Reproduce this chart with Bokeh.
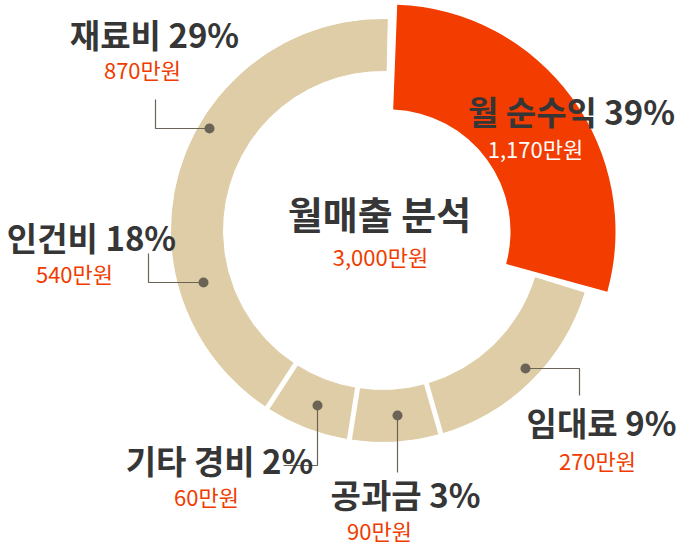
import numpy as np
from bokeh.plotting import figure
from bokeh.models import Range1d
from bokeh.core.properties import value
from bokeh.embed import file_html
from bokeh.resources import INLINE

# ---------------- data ----------------
categories = ["월 순수익", "임대료", "공과금", "기타 경비", "인건비", "재료비"]
percents = [39, 9, 3, 2, 18, 29]
amounts = [1170, 270, 90, 60, 540, 870]          # 만원
total_amount = 3000                               # 만원
# share of the circle each slice is drawn with in the picture (degrees, clockwise from 12 o'clock)
drawn_span = [106, 58, 25, 24, 56, 91]
highlight = "월 순수익"

# ---------------- styles ----------------
BEIGE = "#decda6"
RED = "#f23c00"
ORANGE = "#f03c00"
DARK = "#363636"
LEADER = "#6b6355"
FONT = value("Noto Sans CJK KR")

W, H = 684, 544
def X(rx): return rx
def Y(ry): return H - ry

p = figure(width=W, height=H, output_backend="svg", toolbar_location=None,
           x_range=Range1d(0, W), y_range=Range1d(0, H), min_border=0)
p.axis.visible = False
p.grid.visible = False
p.outline_line_color = None
p.background_fill_color = "white"

cx, cy = X(382), Y(230)
r_in, r_out = 160, 211
red_cx, red_cy = X(388), Y(231)
red_in, red_out = 122, 227

bounds = np.concatenate([[0], np.cumsum(drawn_span)])  # clockwise degrees from top
starts_cw = bounds[:-1].astype(float)
ends_cw = bounds[1:].astype(float)

def to_math(deg_cw):
    return np.deg2rad(90.0 - deg_cw)

# beige slices
b_start, b_end = [], []
for cat, s, e in zip(categories, starts_cw, ends_cw):
    if cat == highlight:
        continue
    s2, e2 = s, e
    if s == drawn_span[0]:       # slice right after the highlight
        s2 = s + 1.2
    if e == 360:                 # slice just before 12 o'clock
        e2 = e + 1.3
    b_start.append(to_math(e2))
    b_end.append(to_math(s2))
p.annular_wedge(x=cx, y=cy, inner_radius=r_in, outer_radius=r_out,
                start_angle=b_start, end_angle=b_end, direction="anticlock",
                fill_color=BEIGE, line_color=BEIGE, line_width=1)

# white separators between beige slices (no gap between 인건비 and 재료비 in the picture)
sep_deg = [bounds[2], bounds[3], bounds[4]]
xs, ys = [], []
for d in sep_deg:
    a = to_math(d)
    xs.append([cx + (r_in - 3) * np.cos(a), cx + (r_out + 3) * np.cos(a)])
    ys.append([cy + (r_in - 3) * np.sin(a), cy + (r_out + 3) * np.sin(a)])
p.multi_line(xs=xs, ys=ys, line_color="white", line_width=5)

# highlighted slice
p.annular_wedge(x=red_cx, y=red_cy, inner_radius=red_in, outer_radius=red_out,
                start_angle=to_math(ends_cw[0] - 0.6), end_angle=to_math(starts_cw[0] + 2.2),
                direction="anticlock", fill_color=RED, line_color=None)

# ---------------- leaders (layout, page pixels) ----------------
leaders = {
    "재료비":   ((209, 128), [(155, 128), (155, 99)]),
    "인건비":   ((203, 282), [(148, 282), (148, 253)]),
    "기타 경비": ((317, 405), [(317, 465), (283, 465)]),
    "공과금":   ((397, 415), [(397, 472)]),
    "임대료":   ((525, 368), [(579, 368), (579, 395)]),
}
lx, ly, dx, dy = [], [], [], []
for cat, (dot, path) in leaders.items():
    pts = [dot] + path
    lx.append([X(a) for a, b in pts])
    ly.append([Y(b) for a, b in pts])
    dx.append(X(dot[0])); dy.append(Y(dot[1]))
p.multi_line(xs=lx, ys=ly, line_color=LEADER, line_width=1.2)
p.scatter(x=dx, y=dy, size=10, fill_color=LEADER, line_color=None)

# ---------------- labels ----------------
title_pos = {
    "월 순수익": (571, 110), "임대료": (601, 421), "공과금": (405, 493),
    "기타 경비": (219, 459), "인건비": (91, 236), "재료비": (154, 33),
}
sub_pos = {
    "월 순수익": (535, 147), "임대료": (597, 459), "공과금": (379, 529),
    "기타 경비": (206, 495), "인건비": (74, 272), "재료비": (142, 68),
}
tx, ty, tt = [], [], []
sx, sy, st, sc = [], [], [], []
for cat, pc, am in zip(categories, percents, amounts):
    tx.append(X(title_pos[cat][0])); ty.append(Y(title_pos[cat][1]))
    tt.append(f"{cat} {pc}%")
    sx.append(X(sub_pos[cat][0])); sy.append(Y(sub_pos[cat][1]))
    st.append(f"{am:,}만원")
    sc.append("white" if cat == highlight else ORANGE)

p.text(x=tx, y=ty, text=tt, text_font=FONT, text_font_style="bold",
       text_font_size="33px", text_color=DARK, text_align="center", text_baseline="middle")
p.text(x=sx, y=sy, text=st, text_font=FONT, text_font_size="22px",
       text_color=sc, text_align="center", text_baseline="middle")

# center
p.text(x=[X(379)], y=[Y(212)], text=["월매출 분석"], text_font=FONT, text_font_style="bold",
       text_font_size="38px", text_color=DARK, text_align="center", text_baseline="middle")
p.text(x=[X(380)], y=[Y(255)], text=[f"{total_amount:,}만원"], text_font=FONT,
       text_font_size="22px", text_color=ORANGE, text_align="center", text_baseline="middle")

open("out.html", "w").write(file_html(p, INLINE))
